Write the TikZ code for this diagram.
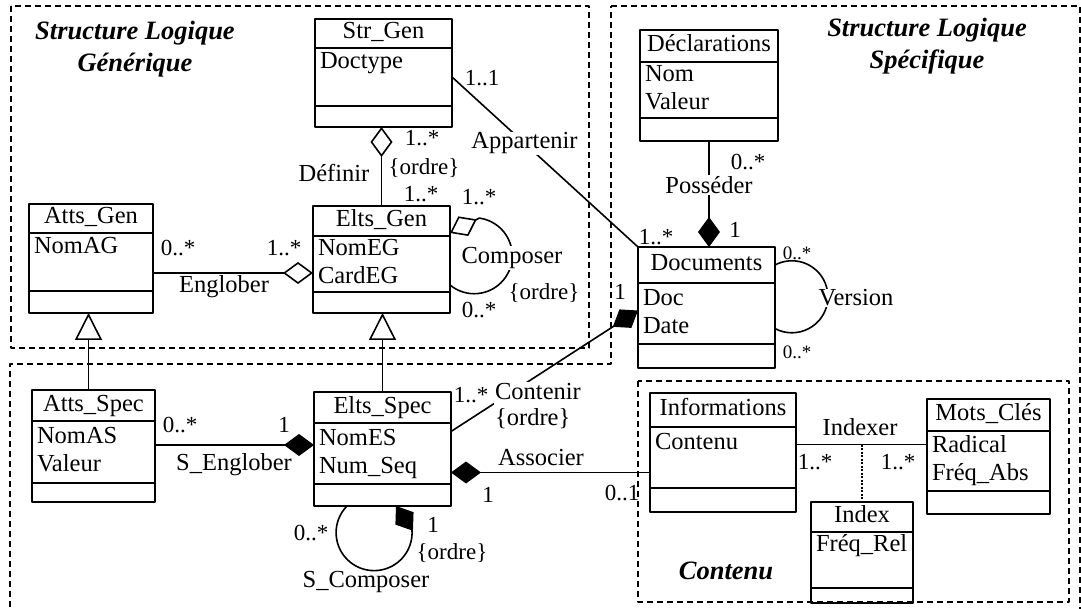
\documentclass[tikz,border=0pt]{standalone}
\usepackage{fontspec}
\setmainfont{Liberation Serif}
\usetikzlibrary{arrows.meta, positioning}

\begin{document}
\begin{tikzpicture}[x=1pt, y=-1pt, line width=1.6pt, line join=round,
    font=\fontsize{24.5}{28}\selectfont,
    ctitle/.style={draw, line width=2pt, outer sep=0pt, inner sep=0pt, minimum width=#1,
                   text height=17pt, text depth=6pt, anchor=north west},
    cattr/.style={draw, line width=2pt, outer sep=0pt, inner xsep=5pt, inner ysep=0pt,
                  text width=#1-10pt, align=left,
                  execute at begin node=\strut, execute at end node=\strut},
    cops/.style={draw, line width=2pt, outer sep=0pt, inner sep=0pt, minimum width=#1},
    mult/.style={inner sep=1pt, font=\fontsize{23}{26}\selectfont},
    smallmult/.style={inner sep=1pt, font=\fontsize{19}{22}\selectfont},
    lbl/.style={fill=white, inner sep=1pt},
    title/.style={align=center, font=\fontsize{26.5}{32}\selectfont\bfseries\itshape},
    frame/.style={line width=1.6pt, dash pattern=on 6pt off 4pt},
    agg/.style={-{Diamond[open, length=30pt, width=22pt]}},
    comp/.style={-{Diamond[length=30pt, width=22pt]}},
    gen/.style={-{Triangle[open, length=27pt, width=27pt]}}]

\useasboundingbox (0,0) rectangle (1081,609);

% Frames
\draw[frame] (11,6) rectangle (589,348);
\draw[frame] (611,6) -- (1080,6) -- (1080,612) -- (10,612) -- (10,364) -- (611,364) -- cycle;
\draw[frame] (638,381) rectangle (1069,602);

\node[title] (tGen) at (135,49) {Structure Logique\\Générique};
\node[title] (tSpec) at (927,46) {Structure Logique\\Spécifique};
\node[title] (tCont) at (726,571) {Contenu};

% Classes
\node[ctitle=137pt, minimum height=29pt] (StrGen) at (315,19) {Str\_Gen};
\node[cattr=137pt, minimum height=58pt, below=0pt of StrGen] (StrGenA) {Doctype\\};
\node[cops=137pt, minimum height=21pt, below=0pt of StrGenA] (StrGenO) {};

\node[ctitle=124pt, minimum height=29pt] (AttsGen) at (29,204) {Atts\_Gen};
\node[cattr=124pt, minimum height=58pt, below=0pt of AttsGen] (AttsGenA) {NomAG\\};
\node[cops=124pt, minimum height=22pt, below=0pt of AttsGenA] (AttsGenO) {};

\node[ctitle=137pt, minimum height=30pt] (EltsGen) at (313,206) {Elts\_Gen};
\node[cattr=137pt, minimum height=56pt, below=0pt of EltsGen] (EltsGenA) {NomEG\\CardEG};
\node[cops=137pt, minimum height=21pt, below=0pt of EltsGenA] (EltsGenO) {};

\node[ctitle=138pt, minimum height=32pt] (Decl) at (640,30) {Déclarations};
\node[cattr=138pt, minimum height=56pt, below=0pt of Decl] (DeclA) {Nom\\Valeur};
\node[cops=138pt, minimum height=23pt, below=0pt of DeclA] (DeclO) {};

\node[ctitle=137pt, minimum height=36pt] (Docs) at (638,247) {Documents};
\node[cattr=137pt, minimum height=61pt, below=0pt of Docs] (DocsA) {Doc\\Date};
\node[cops=137pt, minimum height=24pt, below=0pt of DocsA] (DocsO) {};

\node[ctitle=123pt, minimum height=31pt] (AttsSpec) at (32,390) {Atts\_Spec};
\node[cattr=123pt, minimum height=62pt, below=0pt of AttsSpec] (AttsSpecA) {NomAS\\Valeur};
\node[cops=123pt, minimum height=19pt, below=0pt of AttsSpecA] (AttsSpecO) {};

\node[ctitle=137pt, minimum height=31pt] (EltsSpec) at (314,392) {Elts\_Spec};
\node[cattr=137pt, minimum height=61pt, below=0pt of EltsSpec] (EltsSpecA) {NomES\\Num\_Seq};
\node[cops=137pt, minimum height=22pt, below=0pt of EltsSpecA] (EltsSpecO) {};

\node[ctitle=146pt, minimum height=34pt] (Info) at (650,393) {Informations};
\node[cattr=146pt, minimum height=61pt, below=0pt of Info] (InfoA) {Contenu\\};
\node[cops=146pt, minimum height=24pt, below=0pt of InfoA] (InfoO) {};

\node[ctitle=123pt, minimum height=32pt] (Mots) at (927,399) {Mots\_Clés};
\node[cattr=123pt, minimum height=60pt, below=0pt of Mots] (MotsA) {Radical\\Fréq\_Abs};
\node[cops=123pt, minimum height=23pt, below=0pt of MotsA] (MotsO) {};

\node[ctitle=102pt, minimum height=30pt] (Index) at (811,502) {Index};
\node[cattr=102pt, minimum height=45pt, below=0pt of Index] (IndexA) {Fréq\_Rel\\[-14pt]};
\node[cops=102pt, minimum height=15pt, below=0pt of IndexA] (IndexO) {};

% Connections
\draw[agg] (EltsGen.north) -- (EltsGen.north |- StrGenO.south);
\coordinate (eng) at ([yshift=-9pt]EltsGenA.west);
\draw[agg] (AttsGenA.east |- eng) -- (eng);
\draw[agg] ([yshift=7pt]EltsGenA.south east) arc[start angle=-129.6, end angle=82.3, radius=38pt]
    -- ([yshift=3pt]EltsGenA.north east);
\draw (StrGenA.east) -- node[lbl, pos=0.39] (appL) {Appartenir} (Docs.north west);
\draw[comp] (DeclO.south) -- node[lbl, pos=0.415] (posL) {Posséder} (DeclO.south |- Docs.north);
\draw (Docs.east) arc[start angle=118, end angle=-118, radius=36pt];

\coordinate (gA) at ([xshift=-5pt]AttsSpec.north);
\draw[gen] (gA) -- (gA |- AttsGenO.south);
\draw[gen] (EltsSpec.north) -- (EltsSpec.north |- EltsGenO.south);

\draw[comp] ([yshift=-8.5pt]EltsSpecA.north east) -- ([yshift=3pt]DocsA.west);
\coordinate (seng) at ([yshift=8.5pt]EltsSpecA.west);
\draw[comp] (AttsSpecA.east |- seng) -- (seng);
\coordinate (asc) at ([yshift=-15pt]InfoA.west);
\draw[comp] (asc) -- (EltsSpecA.east |- asc);
\draw[comp] ([xshift=-35.5pt]EltsSpecO.south) arc[start angle=135.5, end angle=365, radius=38pt]
    -- ([xshift=13.5pt]EltsSpecO.south);

\coordinate (ix) at ([yshift=13pt]InfoA.east);
\draw (ix) -- (MotsA.west |- ix);
\draw[line width=2pt, dash pattern=on 2pt off 1.5pt] (Index.north |- ix) -- (Index.north);

% Labels
\node[mult] (appS) at (482,78) {1..1};
\node[mult] (appD) at (656,237) {1..*};
\node[mult] (defS) at (422,138) {1..*};
\node[mult] (defO) at (424,168) {\{ordre\}};
\node (defL) at (334,173) {Définir};
\node[mult] (defE) at (421,194) {1..*};
\node[mult] (compT) at (479,197) {1..*};
\node[lbl] (compL) at (512,258) {Composer};
\node[mult] (compO) at (544,293) {\{ordre\}};
\node[mult] (compB) at (479,310) {0..*};
\node[mult] (engA) at (178,248) {0..*};
\node[mult] (engE) at (284,248) {1..*};
\node (engL) at (224,287) {Englober};

\node[mult] (posD) at (748,162) {0..*};
\node[mult] (posC) at (735,230) {1};
\node[smallmult] (verT) at (797,253) {0..*};
\node[lbl] (verL) at (856,298) {Version};
\node[smallmult] (verB) at (797,352) {0..*};

\node[mult] (contD) at (620,292) {1};
\node[mult] (contE) at (471,395) {1..*};
\node[lbl, align=left, font=\fontsize{24.5}{26}\selectfont] (contL) at (538,406) {Contenir\\\{ordre\}};
\node[mult] (sengA) at (180,425) {0..*};
\node[mult] (sengE) at (284,425) {1};
\node (sengL) at (234,465) {S\_Englober};
\node (assL) at (541,458) {Associer};
\node[mult] (assE) at (488,495) {1};
\node[mult] (assI) at (622,493) {0..1};
\node[mult] (scompA) at (311,533) {0..*};
\node[mult] (scompE) at (433,525) {1};
\node[mult] (scompO) at (452,553) {\{ordre\}};
\node (scompL) at (366,582) {S\_Composer};

\node (idxL) at (860,427) {Indexer};
\node[mult] (idxI) at (815,462) {1..*};
\node[mult] (idxM) at (898,462) {1..*};

\end{tikzpicture}
\end{document}
